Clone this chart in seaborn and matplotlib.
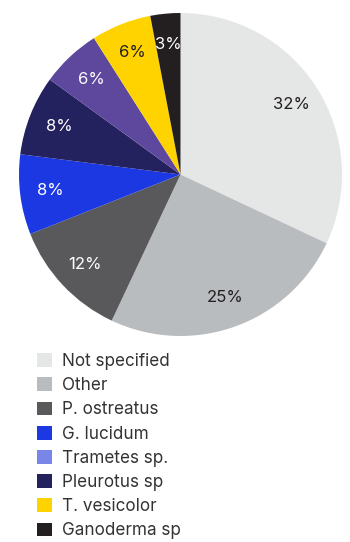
import matplotlib
matplotlib.use("Agg")
import matplotlib.pyplot as plt
import seaborn as sns
from matplotlib.patches import Patch

sns.set_theme(style="white")
plt.rcParams['font.family'] = ['Inter', 'DejaVu Sans']

categories = ["Not specified", "Other", "P. ostreatus", "G. lucidum",
              "Trametes sp.", "Pleurotus sp", "T. vesicolor", "Ganoderma sp"]
legend_colors = ["#e5e6e6", "#b9bcbf", "#59595b", "#1c38e3",
                 "#7a85e8", "#24215f", "#ffd300", "#231f20"]
# pie order (clockwise from top)
pie_labels = ["Not specified", "Other", "P. ostreatus", "G. lucidum",
              "Pleurotus sp", "Trametes sp.", "T. vesicolor", "Ganoderma sp"]
pie_values = [32, 25, 12, 8, 8, 6, 6, 3]
pie_colors = ["#e5e6e6", "#b9bcbf", "#59595b", "#1c38e3",
              "#24215f", "#5e489e", "#ffd300", "#231f20"]
text_colors = ["#231f20", "#231f20", "white", "white",
               "white", "white", "#231f20", "white"]

fig = plt.figure(figsize=(3.5, 5.42), dpi=100)
W, H = 350, 542
ax = fig.add_axes([17 / W, 1 - 336 / H, 327 / W, 323 / H])
wedges, texts, autotexts = ax.pie(
    pie_values, colors=pie_colors, startangle=90, counterclock=False,
    autopct=lambda p: f"{p:.0f}%", pctdistance=0.81,
    wedgeprops=dict(linewidth=0), textprops=dict(fontsize=12))
for t, c in zip(autotexts, text_colors):
    t.set_color(c)
ax.set_xlim(-1, 1)
ax.set_ylim(-1, 1)
ax.set_aspect("equal")
ax.axis("off")

handles = [Patch(facecolor=c, edgecolor="none") for c in legend_colors]
fig.legend(handles, categories, loc="upper left",
           bbox_to_anchor=(32 / W, 1 - 348 / H), frameon=False,
           fontsize=12.3, handlelength=0.87, handleheight=0.87,
           handletextpad=0.6, labelspacing=0.42, labelcolor="#333333",
           borderaxespad=0, borderpad=0.3)

fig.savefig("out.png", dpi=100, facecolor="white")
